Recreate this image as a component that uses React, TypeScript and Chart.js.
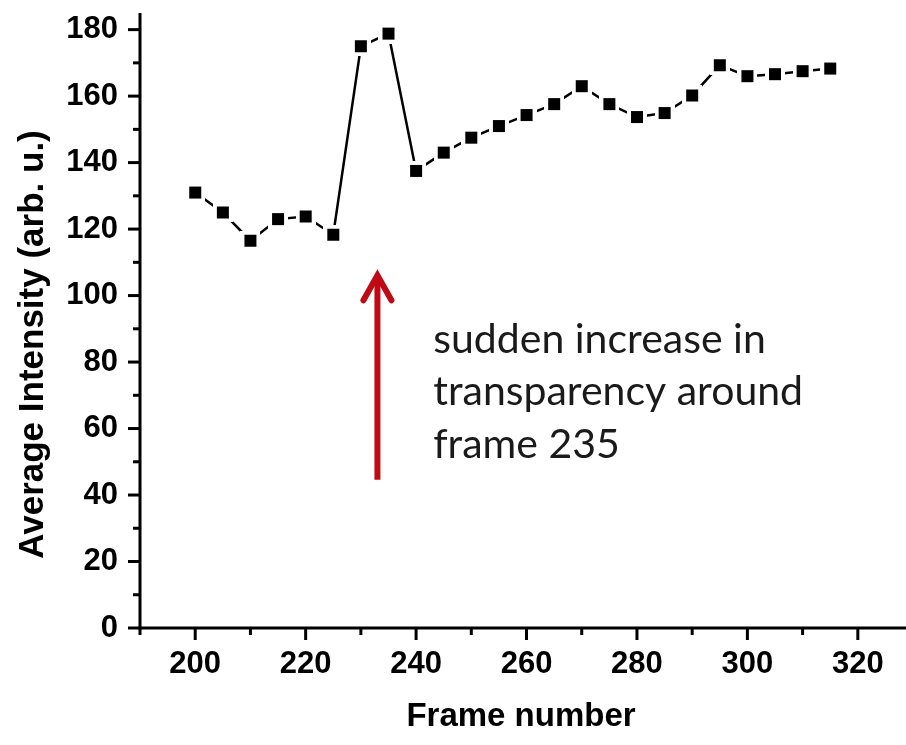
import React, { useEffect, useRef } from "react";
import { Chart, registerables } from "chart.js";

Chart.register(...registerables);

// ---- data ----
const frames = [200, 205, 210, 215, 220, 225, 230, 235, 240, 245, 250, 255, 260, 265, 270, 275, 280, 285, 290, 295, 300, 305, 310, 315];
const intensity = [131, 125, 116.5, 123, 123.8, 118.3, 175, 178.8, 137.5, 143, 147.5, 151, 154.3, 157.6, 163, 157.6, 153.7, 154.9, 160.2, 169.3, 166, 166.6, 167.5, 168.3];

const xTitle = "Frame number";
const yTitle = "Average Intensity (arb. u.)";
const noteLines = ["sudden increase in", "transparency around", "frame 235"];

// annotation anchors in data units
const arrowX = 233;
const arrowFromY = 44.6;
const arrowToY = 107;
const noteX = 243.1;
const noteBaselines = [82.8, 67.1, 51.2];

const X_MIN = 190;
const X_MAX = 328;
const Y_MIN = 0;
const Y_MAX = 185;

const TICK_FONT = { family: "'Liberation Sans', Arial, sans-serif", size: 31, weight: "bold" as const };

function makeMarker(): HTMLCanvasElement {
  const c = document.createElement("canvas");
  const outer = 20;
  const inner = 12;
  c.width = outer;
  c.height = outer;
  const g = c.getContext("2d")!;
  g.fillStyle = "#fff";
  g.fillRect(0, 0, outer, outer);
  g.fillStyle = "#000";
  g.fillRect((outer - inner) / 2, (outer - inner) / 2, inner, inner);
  return c;
}

const originPlugin = {
  id: "originAxes",
  afterDatasetsDraw(chart: any) {
    const { ctx, chartArea: ca, scales } = chart;
    const x = scales.x;
    const y = scales.y;
    ctx.save();
    ctx.strokeStyle = "#000";
    ctx.lineWidth = 3;
    ctx.lineCap = "butt";
    // axis lines
    ctx.beginPath();
    ctx.moveTo(ca.left, ca.top);
    ctx.lineTo(ca.left, ca.bottom + 1.5);
    ctx.stroke();
    ctx.beginPath();
    ctx.moveTo(ca.left - 1.5, ca.bottom);
    ctx.lineTo(ca.right + 6, ca.bottom);
    ctx.stroke();
    // x ticks
    x.ticks.forEach((t: any) => {
      const px = x.getPixelForValue(t.value);
      const major = t.value % 20 === 0;
      ctx.beginPath();
      ctx.moveTo(px, ca.bottom);
      ctx.lineTo(px, ca.bottom + (major ? 12 : 7));
      ctx.stroke();
    });
    // y ticks
    y.ticks.forEach((t: any) => {
      const py = y.getPixelForValue(t.value);
      const major = t.value % 20 === 0;
      ctx.beginPath();
      ctx.moveTo(ca.left, py);
      ctx.lineTo(ca.left - (major ? 12 : 7), py);
      ctx.stroke();
    });

    // y title
    ctx.save();
    ctx.translate(ca.left - 107, (ca.top + ca.bottom) / 2 + 24);
    ctx.rotate(-Math.PI / 2);
    ctx.fillStyle = "#000";
    ctx.font = "bold 35px 'Liberation Sans', Arial, sans-serif";
    ctx.textAlign = "center";
    ctx.textBaseline = "middle";
    ctx.fillText(yTitle, 0, 0);
    ctx.restore();

    // red arrow
    const ax = x.getPixelForValue(arrowX);
    const ay0 = y.getPixelForValue(arrowFromY);
    const ay1 = y.getPixelForValue(arrowToY);
    ctx.strokeStyle = "#BE0A14";
    ctx.lineWidth = 6;
    ctx.lineCap = "butt";
    ctx.beginPath();
    ctx.moveTo(ax, ay0);
    ctx.lineTo(ax, ay1 + 3);
    ctx.stroke();
    ctx.lineCap = "round";
    ctx.lineJoin = "miter";
    ctx.beginPath();
    ctx.moveTo(ax - 14, ay1 + 28);
    ctx.lineTo(ax, ay1 + 3);
    ctx.lineTo(ax + 14, ay1 + 28);
    ctx.stroke();

    // note text
    ctx.fillStyle = "#1a1a1a";
    ctx.font = "41px Lato, 'Open Sans', sans-serif";
    ctx.textAlign = "left";
    ctx.textBaseline = "alphabetic";
    const nx = x.getPixelForValue(noteX);
    noteLines.forEach((line, i) => {
      ctx.fillText(line, nx, y.getPixelForValue(noteBaselines[i]));
    });
    ctx.restore();
  },
};

export default function App() {
  const ref = useRef<HTMLCanvasElement | null>(null);
  useEffect(() => {
    if (!ref.current) return;
    const marker = makeMarker();
    const chart = new Chart(ref.current, {
      type: "line",
      data: {
        datasets: [
          {
            data: frames.map((f, i) => ({ x: f, y: intensity[i] })),
            borderColor: "#000",
            borderWidth: 2.5,
            tension: 0,
            pointStyle: marker as any,
            pointRadius: 1,
            pointBorderWidth: 0,
            pointBackgroundColor: "#000",
            clip: false as any,
          },
        ],
      },
      options: {
        animation: false,
        responsive: false,
        events: [],
        layout: { padding: { top: 13, left: 0, right: 0, bottom: 0 } },
        plugins: { legend: { display: false }, tooltip: { enabled: false } },
        scales: {
          x: {
            type: "linear",
            min: X_MIN,
            max: X_MAX,
            border: { display: false },
            grid: { display: false, drawTicks: false },
            ticks: {
              stepSize: 10,
              includeBounds: false,
              autoSkip: false,
              maxRotation: 0,
              padding: 18,
              color: "#000",
              font: TICK_FONT,
              callback: (v: any) => (Number(v) % 20 === 0 ? String(v) : ""),
            },
            title: {
              display: true,
              text: xTitle,
              color: "#000",
              font: { family: "'Liberation Sans', Arial, sans-serif", size: 33, weight: "bold" },
              padding: { top: 0, bottom: 8 },
            },
            afterFit: (s: any) => {
              s.height = 117;
              s.paddingLeft = 0;
              s.paddingRight = 0;
            },
          },
          y: {
            type: "linear",
            min: Y_MIN,
            max: Y_MAX,
            border: { display: false },
            grid: { display: false, drawTicks: false },
            ticks: {
              stepSize: 10,
              includeBounds: false,
              autoSkip: false,
              padding: 22,
              color: "#000",
              font: TICK_FONT,
              callback: (v: any) => (Number(v) % 20 === 0 ? String(v) : ""),
            },
            afterFit: (s: any) => {
              s.width = 140;
              s.paddingTop = 0;
              s.paddingBottom = 0;
            },
          },
        },
      },
      plugins: [originPlugin],
    });
    return () => chart.destroy();
  }, []);
  return (
    <div style={{ position: "fixed", left: 0, top: 0, width: 906, height: 745, background: "#fff" }}>
      <canvas ref={ref} width={906} height={745} style={{ display: "block" }} />
    </div>
  );
}
